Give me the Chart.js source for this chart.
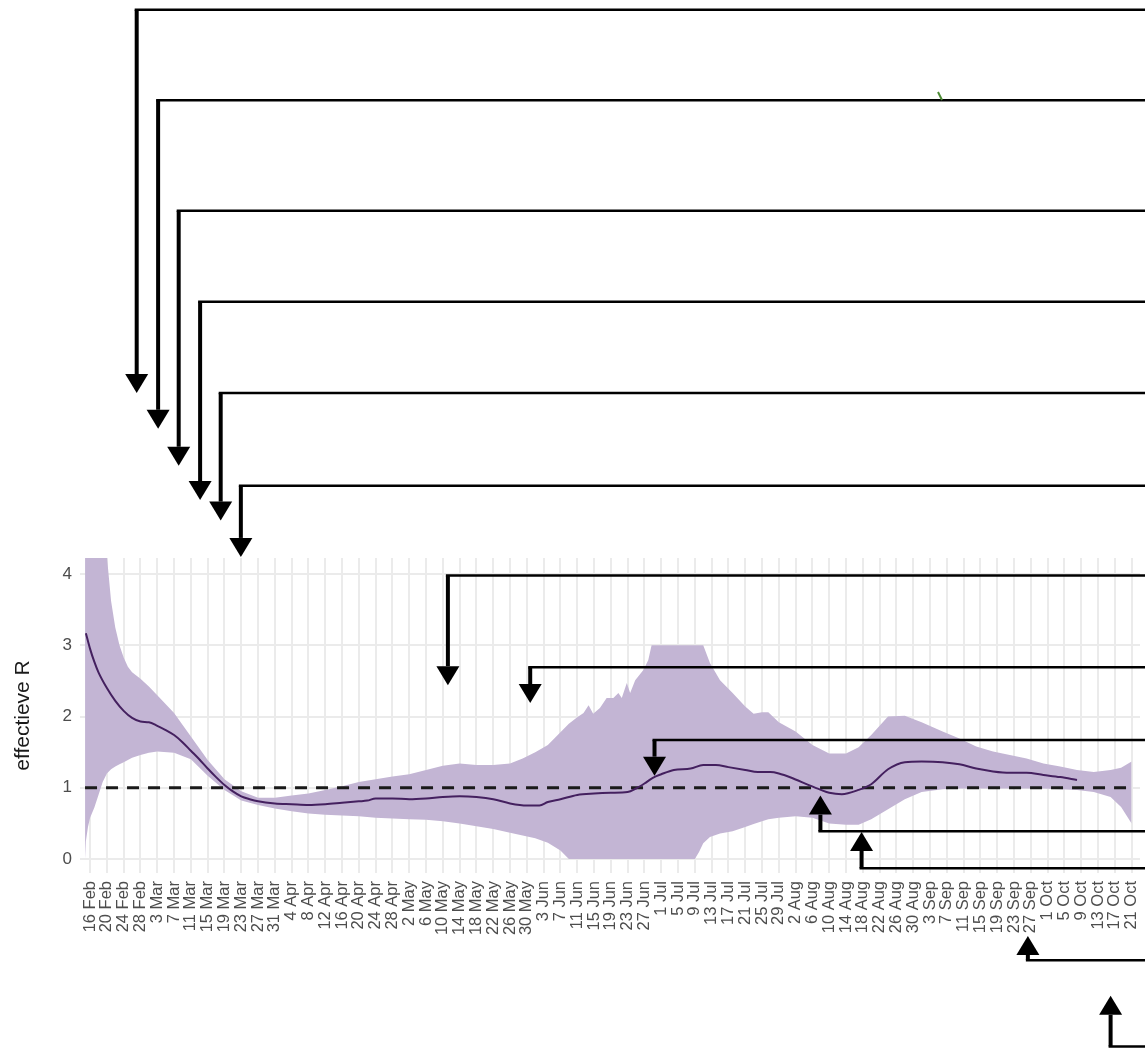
<!DOCTYPE html>
<html>
<head>
<meta charset="utf-8">
<script src="https://cdn.jsdelivr.net/npm/chart.js@4.4.0/dist/chart.umd.min.js"></script>
<style>
    html, body { margin: 0; padding: 0; background: #fff; }
    #wrap { width: 1145px; height: 1048px; }
</style>
</head>
<body>
<div id="wrap"><canvas id="rChart" width="1145" height="1048"></canvas></div>
<script>
// dag 0 = 16 feb, één tick per 4 dagen
const tickLabels = [
    '16 Feb', '20 Feb', '24 Feb', '28 Feb', '3 Mar', '7 Mar', '11 Mar', '15 Mar', '19 Mar', '23 Mar',
    '27 Mar', '31 Mar', '4 Apr', '8 Apr', '12 Apr', '16 Apr', '20 Apr', '24 Apr', '28 Apr', '2 May',
    '6 May', '10 May', '14 May', '18 May', '22 May', '26 May', '30 May', '3 Jun', '7 Jun', '11 Jun',
    '15 Jun', '19 Jun', '23 Jun', '27 Jun', '1 Jul', '5 Jul', '9 Jul', '13 Jul', '17 Jul', '21 Jul',
    '25 Jul', '29 Jul', '2 Aug', '6 Aug', '10 Aug', '14 Aug', '18 Aug', '22 Aug', '26 Aug', '30 Aug',
    '3 Sep', '7 Sep', '11 Sep', '15 Sep', '19 Sep', '23 Sep', '27 Sep', '1 Oct', '5 Oct', '9 Oct',
    '13 Oct', '17 Oct', '21 Oct'
];

// betrouwbaarheidsband
const bandDays = [
    -1.2, -1, -0.5, 0, 1, 2, 3, 4, 5, 6, 7, 8, 9, 10, 12, 14, 16, 20, 24, 28,
    32, 36, 40, 44, 48, 52, 56, 60, 64, 68, 72, 76, 80, 84, 88, 92, 96, 100, 103, 106,
    109, 112, 114, 116, 117.5, 118.7, 119.8, 121.4, 123, 124.6, 125.8, 126.6, 127.8, 128.6, 129.8, 131.7,
    132.9, 133.7, 140, 144, 145, 146, 147.6, 150, 153, 156, 158, 160, 161.5, 164,
    168, 172, 176, 180, 183, 186, 190, 194, 198, 203, 207, 211, 215, 219, 223, 227,
    231, 235, 239, 243, 245.5, 248
];
const bandLow = [
    0, 0.25, 0.45, 0.58, 0.72, 0.9, 1.08, 1.2, 1.26, 1.3, 1.33, 1.36, 1.39, 1.42, 1.46, 1.49, 1.51, 1.49, 1.40, 1.17,
    0.97, 0.82, 0.76, 0.71, 0.67, 0.64, 0.62, 0.61, 0.60, 0.58, 0.57, 0.56, 0.55, 0.53, 0.50, 0.46, 0.42, 0.37, 0.33, 0.29,
    0.23, 0.12, 0, 0, 0, 0, 0, 0, 0, 0, 0, 0, 0, 0, 0, 0,
    0, 0, 0, 0, 0.1, 0.22, 0.31, 0.36, 0.39, 0.45, 0.49, 0.53, 0.56, 0.58,
    0.60, 0.58, 0.50, 0.48, 0.48, 0.56, 0.70, 0.84, 0.94, 0.98, 0.99, 0.99, 0.99, 0.99, 0.99, 0.99,
    0.98, 0.97, 0.94, 0.87, 0.73, 0.50
];
const bandHigh = [
    8, 8, 7.5, 7, 6, 5.2, 4.7, 4.25, 3.62, 3.25, 3.0, 2.83, 2.7, 2.62, 2.53, 2.42, 2.3, 2.05, 1.72, 1.39,
    1.12, 0.95, 0.86, 0.86, 0.89, 0.92, 0.97, 1.02, 1.08, 1.12, 1.16, 1.19, 1.25, 1.31, 1.34, 1.32, 1.32, 1.34, 1.41, 1.50,
    1.60, 1.78, 1.90, 1.99, 2.05, 2.16, 2.04, 2.12, 2.26, 2.26, 2.33, 2.26, 2.47, 2.33, 2.51, 2.65,
    2.79, 3.0, 3.0, 3.0, 3.0, 3.0, 2.75, 2.51, 2.33, 2.14, 2.04, 2.06, 2.06, 1.92,
    1.79, 1.60, 1.48, 1.48, 1.57, 1.74, 2.0, 2.01, 1.92, 1.79, 1.69, 1.58, 1.51, 1.46, 1.41, 1.34,
    1.30, 1.25, 1.22, 1.25, 1.28, 1.37
];

// mediaan effectieve R
const lineDays = [
    -1, 0, 1, 2, 4, 6, 8, 10, 12, 14, 16, 18, 20, 22, 24, 26, 28, 30, 32, 34,
    36, 38, 40, 44, 48, 52, 56, 60, 64, 66, 68, 72, 76, 80, 84, 88, 92, 96, 100, 104,
    107, 109, 112, 116, 120, 124, 128, 130, 132, 134, 136, 139, 143, 146, 149, 152, 156, 159, 162, 164,
    167, 171, 174, 176, 179, 183, 186, 190, 194, 198, 203, 207, 211, 215, 219, 223, 227, 231, 235
];
const lineR = [
    3.17, 2.95, 2.77, 2.62, 2.40, 2.22, 2.08, 1.98, 1.93, 1.92, 1.87, 1.81, 1.74, 1.64, 1.52, 1.40, 1.27, 1.15, 1.04, 0.95,
    0.88, 0.84, 0.81, 0.78, 0.77, 0.76, 0.77, 0.79, 0.81, 0.82, 0.85, 0.85, 0.84, 0.85, 0.87, 0.88, 0.87, 0.84, 0.78, 0.75,
    0.75, 0.80, 0.84, 0.90, 0.92, 0.93, 0.94, 0.99, 1.06, 1.14, 1.19, 1.25, 1.27, 1.32, 1.32, 1.29, 1.25, 1.22, 1.22, 1.20,
    1.14, 1.04, 0.97, 0.93, 0.91, 0.97, 1.05, 1.26, 1.36, 1.37, 1.36, 1.33, 1.27, 1.23, 1.21, 1.21, 1.18, 1.15, 1.11
];

// referentielijn R = 1
const refDays = [-1.2, 248];
const refR = [1, 1];

// pijlen: dag van de punt, hoogte van de knik en van de punt (in R-eenheden, ook buiten de as)
const arrows = [
    { day: 11.1, knee: 11.92, tip: 6.54 },
    { day: 16.2, knee: 10.65, tip: 6.04 },
    { day: 21.1, knee: 9.10, tip: 5.52 },
    { day: 26.2, knee: 7.82, tip: 5.04 },
    { day: 31.1, knee: 6.54, tip: 4.75 },
    { day: 35.9, knee: 5.24, tip: 4.24 },
    { day: 85.2, knee: 3.98, tip: 2.44 },
    { day: 104.8, knee: 2.69, tip: 2.19 },
    { day: 134.4, knee: 1.67, tip: 1.17 },
    { day: 173.9, knee: 0.39, tip: 0.89 },
    { day: 183.7, knee: -0.13, tip: 0.38 },
    { day: 223.3, knee: -1.42, tip: -1.08 },
    { day: 243.0, knee: -2.63, tip: -1.92 }
];

function toPoints(xs, ys) {
    return xs.map((d, i) => ({ x: d, y: ys[i] }));
}

// pijlen tekenen bovenop de grafiek
const arrowPlugin = {
    id: 'arrows',
    afterDraw(chart) {
        const { ctx, scales: { x, y } } = chart;
        ctx.save();
        ctx.strokeStyle = '#000';
        ctx.fillStyle = '#000';
        ctx.lineCap = 'butt';
        arrows.forEach(a => {
            const px = x.getPixelForValue(a.day);
            const yKnee = y.getPixelForValue(a.knee);
            const yTip = y.getPixelForValue(a.tip);
            const dir = yTip > yKnee ? 1 : -1;
            const head = 19;
            const base = yTip - dir * head;

            ctx.lineWidth = 2.5;
            ctx.beginPath();
            ctx.moveTo(px - 2, yKnee);
            ctx.lineTo(chart.width, yKnee);
            ctx.stroke();

            ctx.lineWidth = 4;
            ctx.beginPath();
            ctx.moveTo(px, yKnee);
            ctx.lineTo(px, base);
            ctx.stroke();

            ctx.beginPath();
            ctx.moveTo(px - 11.5, base);
            ctx.lineTo(px + 11.5, base);
            ctx.lineTo(px, yTip);
            ctx.closePath();
            ctx.fill();
        });
        // klein groen streepje boven de tweede pijl
        ctx.strokeStyle = '#4c8a34';
        ctx.lineWidth = 2;
        ctx.beginPath();
        ctx.moveTo(938, 92);
        ctx.lineTo(942, 100);
        ctx.stroke();
        ctx.restore();
    }
};

const ctx = document.getElementById('rChart').getContext('2d');
new Chart(ctx, {
    type: 'line',
    data: {
        datasets: [
            {
                label: 'R',
                data: toPoints(lineDays, lineR),
                borderColor: '#44205f',
                borderWidth: 2,
                pointRadius: 0,
                cubicInterpolationMode: 'monotone',
                fill: false
            },
            {
                label: 'R = 1',
                data: toPoints(refDays, refR),
                borderColor: '#1a1a1a',
                borderWidth: 3,
                borderDash: [12, 9],
                pointRadius: 0,
                fill: false
            },
            {
                label: 'boven',
                data: toPoints(bandDays, bandHigh),
                borderColor: 'rgba(0,0,0,0)',
                borderWidth: 0,
                backgroundColor: '#c3b5d4',
                pointRadius: 0,
                tension: 0,
                fill: '+1'
            },
            {
                label: 'onder',
                data: toPoints(bandDays, bandLow),
                borderColor: 'rgba(0,0,0,0)',
                borderWidth: 0,
                pointRadius: 0,
                tension: 0,
                fill: false
            }
        ]
    },
    options: {
        responsive: false,
        animation: false,
        layout: { padding: { top: 558, right: 5, left: 0, bottom: 0 } },
        plugins: {
            legend: { display: false },
            tooltip: { enabled: false }
        },
        scales: {
            x: {
                type: 'linear',
                min: -2.4,
                max: 250,
                afterFit: s => {
                    s.height = 175;
                    s.paddingLeft = 0;
                    s.paddingRight = 0;
                },
                border: { display: false },
                grid: { color: '#ebebeb', lineWidth: 2, drawTicks: false },
                ticks: {
                    stepSize: 4,
                    includeBounds: false,
                    autoSkip: false,
                    minRotation: 90,
                    maxRotation: 90,
                    padding: 8,
                    color: '#4d4d4d',
                    font: { family: '"Liberation Sans", Arial, sans-serif', size: 16.5 },
                    callback: v => tickLabels[Math.round(v / 4)] || ''
                }
            },
            y: {
                min: -0.196,
                max: 4.225,
                afterFit: s => { s.width = 80; },
                border: { display: false },
                grid: { color: '#ebebeb', lineWidth: 2, drawTicks: false },
                ticks: {
                    stepSize: 1,
                    includeBounds: false,
                    padding: 8,
                    color: '#4d4d4d',
                    font: { family: '"Liberation Sans", Arial, sans-serif', size: 17 }
                },
                title: {
                    display: true,
                    text: 'effectieve R',
                    color: '#1a1a1a',
                    padding: { top: 11, bottom: 0 },
                    font: { family: '"Liberation Sans", Arial, sans-serif', size: 21 }
                }
            }
        }
    },
    plugins: [arrowPlugin]
});
</script>
</body>
</html>
